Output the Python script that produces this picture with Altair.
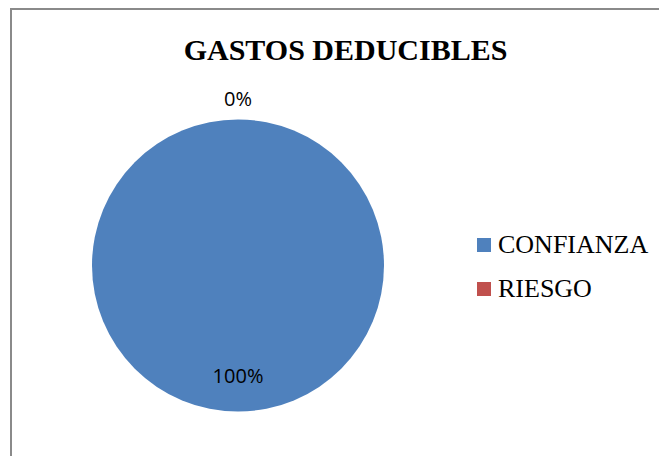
import altair as alt
import pandas as pd

categories = ["CONFIANZA", "RIESGO"]
values = [100, 0]
labels = ["100%", "0%"]
colors = ["#4F81BD", "#C0504D"]

df = pd.DataFrame({"cat": categories, "value": values, "label": labels})

W, H = 651, 448
CX, CY = 230, 257.5

base = alt.Chart(df)

theta = alt.Theta("value:Q", stack=True)
color = alt.Color(
    "cat:N",
    scale=alt.Scale(domain=categories, range=colors),
    sort=categories,
    legend=alt.Legend(
        title=None,
        orient="none",
        legendX=463,
        legendY=224,
        symbolType="square",
        symbolSize=196,
        symbolStrokeWidth=0,
        labelFont="Liberation Serif",
        labelFontSize=26,
        labelColor="#000000",
        labelOffset=1,
        rowPadding=18,
    ),
)

pie = base.mark_arc(radius=146, stroke=None).encode(
    theta=theta,
    color=color,
    order=alt.Order("value:Q", sort="descending"),
    x=alt.value(CX),
    y=alt.value(CY),
)

txt_big = base.transform_filter(alt.datum.cat == "CONFIANZA").mark_text(
    radius=111, font="Open Sans", fontSize=20, color="#000000", align="center", baseline="middle"
).encode(theta=theta, text="label:N", x=alt.value(CX), y=alt.value(CY))

txt_small = base.transform_filter(alt.datum.cat == "RIESGO").mark_text(
    radius=166, font="Open Sans", fontSize=20, color="#000000", align="center", baseline="middle"
).encode(theta=theta, text="label:N", x=alt.value(CX), y=alt.value(CY))

frame_left = base.mark_rect(color="#8a8a8a").encode(
    x=alt.value(2), x2=alt.value(4), y=alt.value(0), y2=alt.value(H)
)
frame_top = base.mark_rect(color="#8a8a8a").encode(
    x=alt.value(2), x2=alt.value(W), y=alt.value(0), y2=alt.value(2)
)

chart = alt.layer(frame_left, frame_top, pie, txt_big, txt_small).properties(
    width=W,
    height=H,
    padding={"left": 0, "right": 0, "bottom": 0, "top": 0},
    autosize=alt.AutoSizeParams(type="none"),
    title=alt.TitleParams(
        text="GASTOS DEDUCIBLES",
        font="Liberation Serif",
        fontSize=30,
        fontWeight="bold",
        color="#000000",
        anchor="middle",
        dx=12,
        offset=-82,
        baseline="alphabetic",
    ),
).configure_view(stroke=None)

chart.save("out.html", embed_options={"renderer": "svg", "actions": False})
